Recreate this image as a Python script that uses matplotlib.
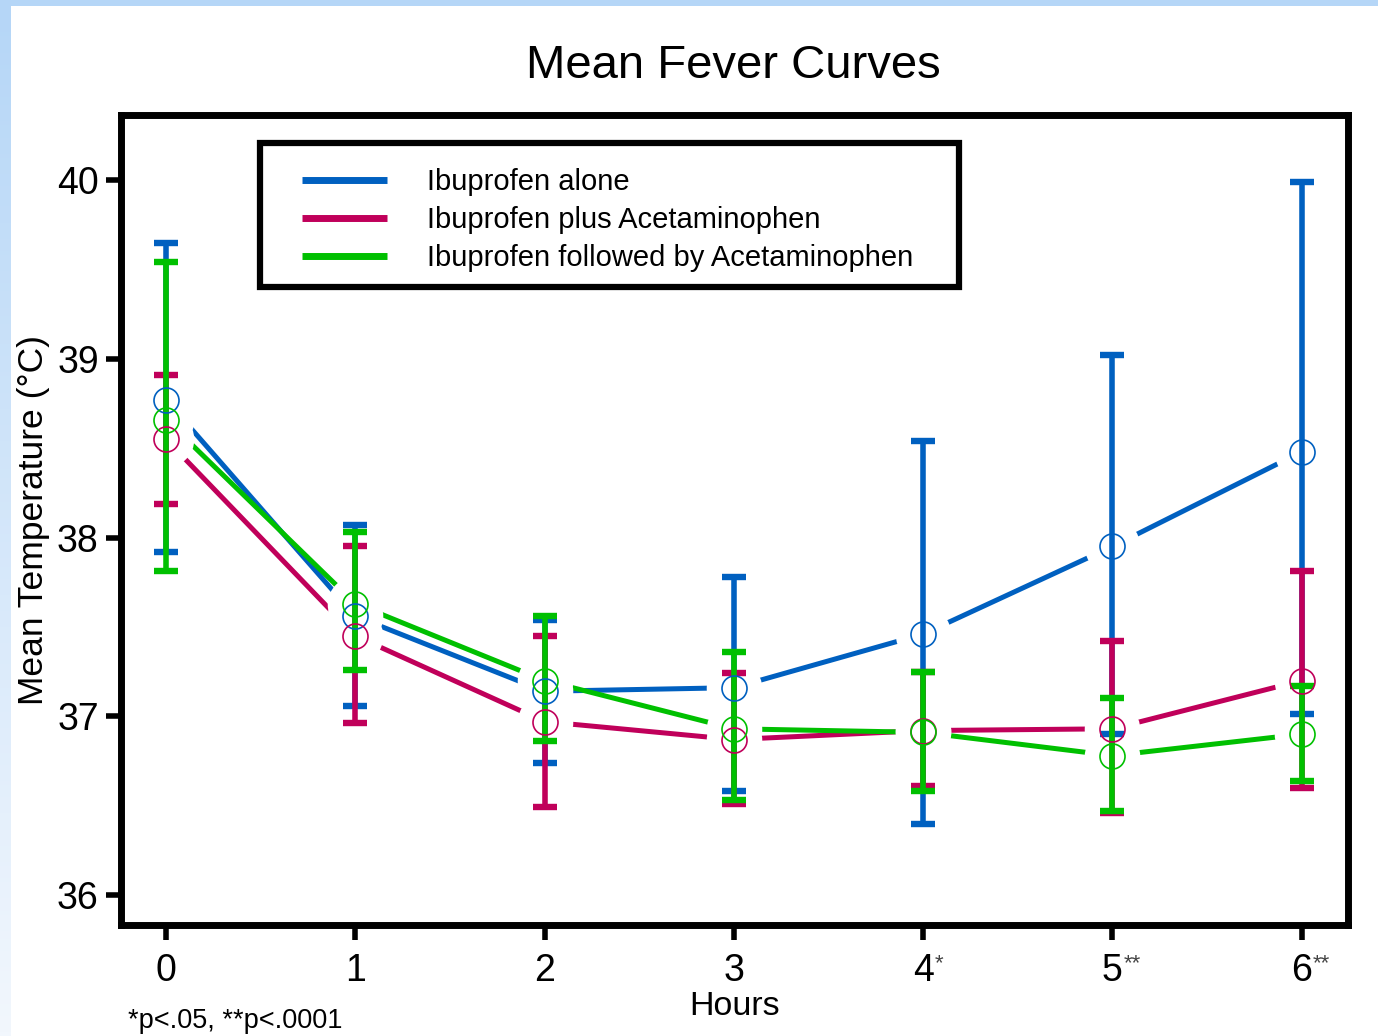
import matplotlib
matplotlib.use('Agg')
import matplotlib.pyplot as plt
import numpy as np

plt.rcParams['font.family'] = ['Liberation Sans', 'DejaVu Sans']

# Data
hours = [0, 1, 2, 3, 4, 5, 6]
hour_labels = ['0', '1', '2', '3', '4', '5', '6']
sig_marks = ['', '', '', '', '*', '**', '**']

series_names = ['Ibuprofen alone', 'Ibuprofen plus Acetaminophen',
                'Ibuprofen followed by Acetaminophen']

ibu_mean = [38.77, 37.56, 37.14, 37.16, 37.46, 37.95, 38.48]
ibu_low = [37.92, 37.06, 36.74, 36.58, 36.40, 36.90, 37.01]
ibu_high = [39.65, 38.07, 37.54, 37.78, 38.54, 39.02, 39.99]

plus_mean = [38.55, 37.45, 36.97, 36.87, 36.92, 36.93, 37.20]
plus_low = [38.19, 36.96, 36.49, 36.51, 36.61, 36.46, 36.60]
plus_high = [38.91, 37.95, 37.45, 37.24, 37.25, 37.42, 37.81]

foll_mean = [38.66, 37.63, 37.20, 36.93, 36.91, 36.78, 36.90]
foll_low = [37.81, 37.26, 36.86, 36.53, 36.58, 36.47, 36.64]
foll_high = [39.54, 38.03, 37.56, 37.36, 37.25, 37.10, 37.17]

colors = ['#0060c0', '#c0005a', '#00c000']

fig = plt.figure(figsize=(13.78, 10.36), dpi=100)
fig.patch.set_facecolor('white')

# light blue slide border (top + left, fading down)
grad = np.linspace(0, 1, 256).reshape(-1, 1)
bax = fig.add_axes([0, 0, 0.0075, 1])
bax.imshow(grad, aspect='auto', cmap=matplotlib.colors.LinearSegmentedColormap.from_list(
    'b', ['#b5d6f7', '#f2f7fd']), extent=[0, 1, 1, 0])
bax.axis('off')
tax = fig.add_axes([0, 0.994, 1, 0.006])
tax.axis('off')
tax.add_patch(plt.Rectangle((0, 0), 1, 1, color='#b5d6f7', transform=tax.transAxes))

ax = fig.add_axes([0.0878, 0.1071, 0.8904, 0.7819])

means = [ibu_mean, plus_mean, foll_mean]
lows = [ibu_low, plus_low, foll_low]
highs = [ibu_high, plus_high, foll_high]

for m, c, name in zip(means, colors, series_names):
    ax.plot(hours, m, color=c, lw=3.6, label=name, zorder=2, solid_capstyle='butt')

# white masks give the gap between lines and markers
for m in means:
    ax.plot(hours, m, ls='none', marker='o', ms=40, mfc='white', mec='white',
            mew=0, zorder=3)

for m, lo, hi, c in zip(means, lows, highs, colors):
    m = np.array(m)
    err = [m - np.array(lo), np.array(hi) - m]
    ax.errorbar(hours, m, yerr=err, fmt='none', ecolor=c, elinewidth=4.0,
                capsize=8.6, capthick=4.6, zorder=4)

for m, c in zip(means, colors):
    ax.plot(hours, m, ls='none', marker='o', ms=18, mfc='none', mec=c, mew=1.2, zorder=5)

ax.set_xlim(-0.238, 6.244)
ax.set_ylim(35.832, 40.364)
ax.set_yticks([36, 37, 38, 39, 40])
ax.set_xticks(hours)
ax.set_xticklabels(hour_labels)
for x, s in zip(hours, sig_marks):
    if s:
        ax.annotate(s, xy=(x, 0), xycoords=('data', 'axes fraction'),
                    xytext=(8, -28), textcoords='offset points',
                    ha='left', va='center', fontsize=16, color='#444444')

for sp in ax.spines.values():
    sp.set_linewidth(5)
ax.tick_params(axis='both', length=11, width=4, labelsize=27)
ax.tick_params(axis='x', pad=9)
ax.tick_params(axis='y', pad=5)

ax.set_ylabel('Mean Temperature (°C)', fontsize=25.5, labelpad=5)
ax.set_xlabel('Hours', fontsize=24.5, labelpad=1.5)
fig.text(0.5325, 0.9365, 'Mean Fever Curves', ha='center', va='center', fontsize=34)
fig.text(0.093, 0.014, '*p<.05, **p<.0001', ha='left', va='center', fontsize=19.5)

leg = ax.legend(loc='upper left', bbox_to_anchor=(0.1475, 0.9345), fontsize=21,
                handlelength=2.9, handletextpad=1.4, labelspacing=0.34,
                borderpad=0, borderaxespad=0, frameon=False)
leg.set_zorder(10)
for h in leg.get_lines():
    h.set_linewidth(5)

# square legend box with wider side padding than top/bottom
fig.canvas.draw()
bb = leg.get_window_extent()
frame = plt.Rectangle((bb.x0 - 42, bb.y0 - 15), bb.width + 42 + 45, bb.height + 15 + 25,
                      transform=None, fill=True, facecolor='white', edgecolor='black',
                      lw=4.5, zorder=9)
ax.add_artist(frame)

fig.savefig('out.png', dpi=100, facecolor='white')
